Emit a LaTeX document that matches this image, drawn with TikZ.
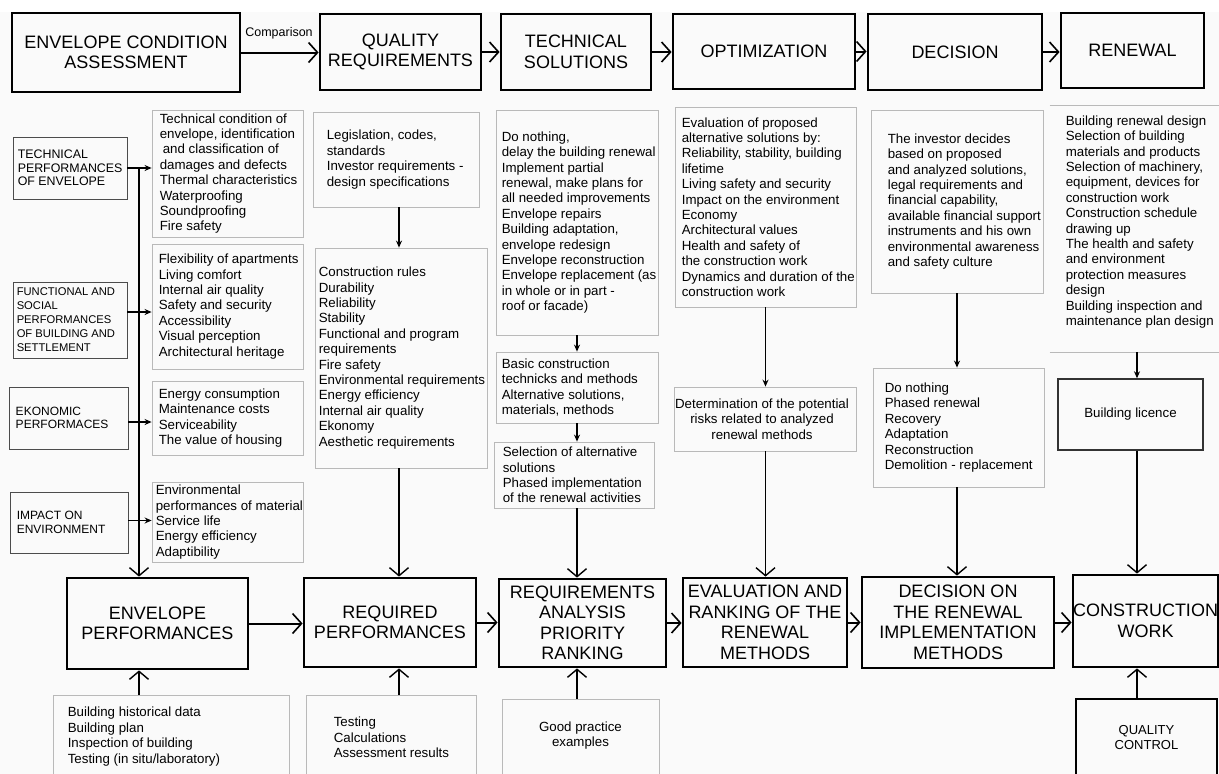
\documentclass[tikz,border=0pt]{standalone}
\usepackage{fontspec}
\setmainfont{Liberation Sans}
\usetikzlibrary{arrows.meta,calc}
\newcommand\mybox[7]{\node[#2, minimum width={#5-#3}, minimum height={#6-#4}] (#1) at ({(#3+#5)/2},{(#4+#6)/2}) {#7};}
\begin{document}
\begin{tikzpicture}[x=1pt,y=-1pt,
  big/.style={draw, line width=2.8pt, align=center, inner sep=0pt, font=\fontsize{18}{20.5}\selectfont},
  cat/.style={draw=black!70, line width=0.9pt, inner sep=0pt},
  cattext/.style={font=\fontsize{12.4}{13.6}\selectfont, align=left, inner sep=0pt, anchor=west},
  dbox/.style={draw=gray!55, line width=0.8pt, inner sep=0pt},
  dtext/.style={font=\fontsize{13.3}{15.4}\selectfont, align=left, inner sep=0pt, anchor=west},
  ctext/.style={font=\fontsize{13.3}{15.4}\selectfont, align=center, inner sep=0pt},
  flow/.style={line width=2pt, -{Straight Barb[length=9pt,width=20pt,line width=1.6pt]}},
  down/.style={line width=1.6pt, -{Straight Barb[length=8pt,width=19pt,line width=1.4pt]}},
  small/.style={line width=1.3pt, -{Stealth[length=7pt,width=6pt]}},
]
\useasboundingbox (0,0) rectangle (1219,774);
\clip (0,0) rectangle (1219,774);
\fill[white] (0,0) rectangle (1219,774);
\fill[gray!4] (0,12) rectangle (1219,774);

% top row
\mybox{A1}{big}{12}{13}{240}{92}{ENVELOPE CONDITION\\ASSESSMENT}
\mybox{A2}{big}{320}{14}{481}{90}{QUALITY\\REQUIREMENTS}
\mybox{A3}{big}{501}{14}{651}{90}{TECHNICAL\\SOLUTIONS}
\mybox{A4}{big}{673}{14}{855}{89}{OPTIMIZATION}
\mybox{A5}{big}{868}{14}{1042}{90}{DECISION}
\mybox{A6}{big}{1061}{13}{1204}{88}{RENEWAL}
\node[font=\fontsize{12.5}{14}\selectfont, inner sep=0pt] (cmp) at (279,33) {Comparison};
\draw[flow] (A1.east) -- (A1.east -| A2.west);
\draw[flow] (A2.east) -- (A2.east -| A3.west);
\draw[flow] (A3.east) -- (A3.east -| A4.west);
\draw[flow] (A4.east) -- (A4.east -| A5.west);
\draw[flow] (A5.east) -- (A5.east -| A6.west);

% left categories
\mybox{L1}{cat}{13}{137}{127}{199}{}
\node[cattext] (L1t) at ([xshift=5pt]L1.west) {TECHNICAL\\PERFORMANCES\\OF ENVELOPE};
\mybox{L2}{cat}{13}{282}{127}{358}{}
\node[cattext, font=\fontsize{11.2}{14}\selectfont] (L2t) at ([xshift=4pt]L2.west) {FUNCTIONAL AND\\SOCIAL\\PERFORMANCES\\OF BUILDING AND\\SETTLEMENT};
\mybox{L3}{cat}{9}{387}{128}{449}{}
\node[cattext, font=\fontsize{12}{13.6}\selectfont] (L3t) at ([xshift=7pt]L3.west) {EKONOMIC\\PERFORMACES};
\mybox{L4}{cat}{10}{492}{128}{553}{}
\node[cattext, font=\fontsize{12}{13.6}\selectfont] (L4t) at ([xshift=7pt]L4.west) {IMPACT ON\\ENVIRONMENT};

% left details
\mybox{D1}{dbox}{152}{110}{303}{237}{}
\node[dtext] (D1t) at ([xshift=8pt]D1.west) {Technical condition of\\envelope, identification\\\hspace*{3pt}and classification of\\damages and defects\\Thermal characteristics\\Waterproofing\\Soundproofing\\Fire safety};
\mybox{D2}{dbox}{152}{244}{303}{369}{}
\node[dtext] (D2t) at ([xshift=7pt]D2.west) {Flexibility of apartments\\Living comfort\\Internal air quality\\Safety and security\\Accessibility\\Visual perception\\Architectural heritage};
\mybox{D3}{dbox}{152}{381}{303}{455}{}
\node[dtext] (D3t) at ([xshift=7pt]D3.west) {Energy consumption\\Maintenance costs\\Serviceability\\The value of housing};
\mybox{D4}{dbox}{152}{482}{303}{562}{}
\node[dtext] (D4t) at ([xshift=4pt]D4.west) {Environmental\\performances of material\\Service life\\Energy efficiency\\Adaptibility};

\draw[small] (L1.east) -- (L1.east -| D1.west);
\draw[small] ([yshift=8pt]L2.east) -- ([yshift=8pt]L2.east -| D2.west);
\draw[small] ([yshift=-4pt]L3.east) -- ([yshift=-4pt]L3.east -| D3.west);
\draw[small] ([yshift=2pt]L4.east) -- ([yshift=2pt]L4.east -| D4.west);

% quality column
\mybox{Q1}{dbox}{313}{112}{479}{207}{}
\node[dtext] (Q1t) at ([xshift=14pt]Q1.west) {Legislation, codes,\\standards\\Investor requirements -\\design specifications};
\mybox{Q2}{dbox}{315}{248}{487}{468}{}
\node[dtext] (Q2t) at ([xshift=4pt]Q2.west) {Construction rules\\Durability\\Reliability\\Stability\\Functional and program\\requirements\\Fire safety\\Environmental requirements\\Energy efficiency\\Internal air quality\\Ekonomy\\Aesthetic requirements};

% technical column
\mybox{T1}{dbox}{496}{110}{658}{335}{}
\node[dtext] (T1t) at ([xshift=6pt]T1.west) {Do nothing,\\delay the building renewal\\Implement partial\\renewal, make plans for\\all needed improvements\\Envelope repairs\\Building adaptation,\\envelope redesign\\Envelope reconstruction\\Envelope replacement (as\\in whole or in part -\\roof or facade)};
\mybox{T2}{dbox}{496}{352}{658}{423}{}
\node[dtext] (T2t) at ([xshift=6pt]T2.west) {Basic construction\\technicks and methods\\Alternative solutions,\\materials, methods};
\mybox{T3}{dbox}{494}{442}{654}{508}{}
\node[dtext] (T3t) at ([xshift=9pt]T3.west) {Selection of alternative\\solutions\\Phased implementation\\of the renewal activities};

% optimization column
\mybox{O1}{dbox}{675}{107}{856}{307}{}
\node[dtext] (O1t) at ([xshift=7pt]O1.west) {Evaluation of proposed\\alternative solutions by:\\Reliability, stability, building\\lifetime\\Living safety and security\\Impact on the environment\\Economy\\Architectural values\\Health and safety of\\the construction work\\Dynamics and duration of the\\construction work};
\mybox{O2}{dbox}{674}{387}{856}{451}{}
\node[ctext] (O2t) at ([xshift=-3pt]O2.center) {Determination of the potential\\risks related to analyzed\\renewal methods};

% decision column
\mybox{E1}{dbox}{871}{110}{1043}{293}{}
\node[dtext] (E1t) at ([xshift=17pt]E1.west) {The investor decides\\based on proposed\\and analyzed solutions,\\legal requirements and\\financial capability,\\available financial support\\instruments and his own\\environmental awareness\\and safety culture};
\mybox{E2}{dbox}{873}{368}{1044}{487}{}
\node[dtext] (E2t) at ([xshift=12pt]E2.west) {Do nothing\\Phased renewal\\Recovery\\Adaptation\\Reconstruction\\Demolition - replacement};

% renewal column
\mybox{R1}{dbox,draw=none}{1050}{106}{1225}{352}{}
\draw[gray!55, line width=0.8pt] (R1.north west) -- (R1.north east) (R1.south west) -- (R1.south east);
\node[dtext] (R1t) at ([xshift=16pt,yshift=7pt]R1.west) {Building renewal design\\Selection of building\\materials and products\\Selection of machinery,\\equipment, devices for\\construction work\\Construction schedule\\drawing up\\The health and safety\\and environment\\protection measures\\design\\Building inspection and\\maintenance plan design};
\mybox{BL}{dbox,draw=black!80,line width=1.4pt,font=\fontsize{13.3}{15.4}\selectfont}{1058}{379}{1203}{450}{Building licence}

% bottom row
\mybox{B1}{big}{67}{578}{248}{669}{ENVELOPE\\PERFORMANCES}
\mybox{B2}{big}{304}{578}{476}{667}{REQUIRED\\PERFORMANCES}
\mybox{B3}{big}{499}{579}{666}{667}{REQUIREMENTS\\ANALYSIS\\PRIORITY\\RANKING}
\mybox{B4}{big}{683}{578}{847}{667}{EVALUATION AND\\RANKING OF THE\\RENEWAL\\METHODS}
\mybox{B5}{big}{862}{577}{1054}{668}{DECISION ON\\THE RENEWAL\\IMPLEMENTATION\\METHODS}
\mybox{B6}{big}{1074}{575}{1217}{667}{CONSTRUCTION\\WORK}
\mybox{QC}{big,font=\fontsize{13}{15.5}\selectfont}{1076}{699}{1217}{776}{QUALITY\\CONTROL}

\draw[flow] (B1.east) -- (B1.east -| B2.west);
\draw[flow] (B2.east) -- (B2.east -| B3.west);
\draw[flow] (B3.east) -- (B3.east -| B4.west);
\draw[flow] (B4.east) -- (B4.east -| B5.west);
\draw[flow] (B5.east) -- (B5.east -| B6.west);

% bottom details
\mybox{BD1}{dbox}{53}{695}{289}{780}{}
\node[dtext] (BD1t) at ([xshift=15pt,yshift=1pt]BD1.west) {Building historical data\\Building plan\\Inspection of building\\Testing (in situ/laboratory)};
\mybox{BD2}{dbox}{306}{695}{476}{780}{}
\node[dtext] (BD2t) at ([xshift=28pt]BD2.west) {Testing\\Calculations\\Assessment results};
\mybox{BD3}{dbox}{502}{699}{659}{780}{}
\node[ctext] (BD3t) at ([yshift=4pt]BD3.center) {Good practice\\examples};

% vertical connectors
\coordinate (tk) at (139,168);
\coordinate (qx) at (399,0);
\coordinate (tx) at (577,0);
\coordinate (rx) at (1137,0);
\draw[down] (tk) -- (tk |- B1.north);
\draw[down] (BD1.north -| tk) -- (B1.south -| tk);

\draw[small] (Q1.south -| qx) -- (Q2.north -| qx);
\draw[down] (Q2.south -| qx) -- (B2.north -| qx);
\draw[down] (BD2.north -| qx) -- (B2.south -| qx);

\draw[small] (T1.south -| tx) -- (T2.north -| tx);
\draw[small] (T2.south -| tx) -- (T3.north -| tx);
\draw[down] (T3.south -| tx) -- (B3.north -| tx);
\draw[down] (BD3.north -| tx) -- (B3.south -| tx);

\draw[small] (O1.south) -- (O1.south |- O2.north);
\draw[down] (O2.south -| O1.south) -- (B4.north -| O1.south);

\draw[small] (E1.south) -- (E1.south |- E2.north);
\draw[down] (E2.south -| E1.south) -- (B5.north -| E1.south);

\draw[small] (R1.south -| rx) -- (BL.north -| rx);
\draw[down] (BL.south -| rx) -- (B6.north -| rx);
\draw[down] (QC.north -| rx) -- (B6.south -| rx);
\end{tikzpicture}
\end{document}
